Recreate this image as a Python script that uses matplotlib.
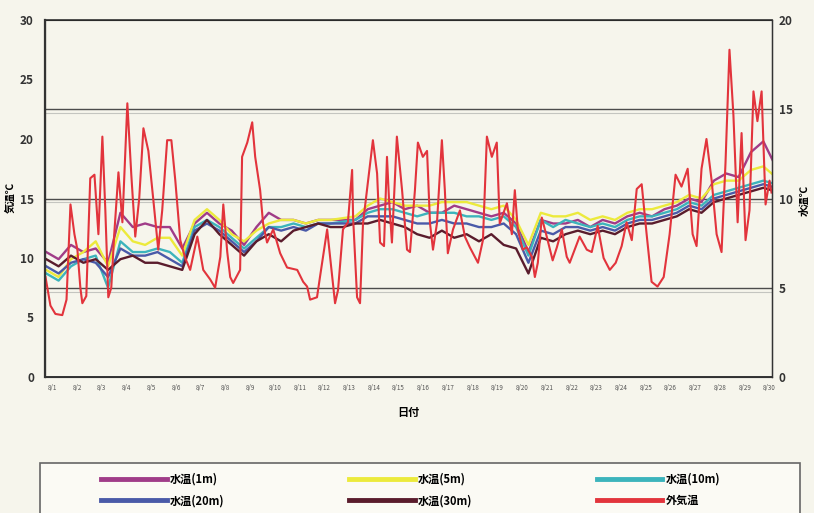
import numpy as np
import matplotlib.pyplot as plt
from matplotlib.lines import Line2D
from matplotlib.patches import Rectangle

plt.rcParams['font.family'] = ['Noto Sans CJK JP', 'DejaVu Sans']

# ---------------------------------------------------------------
#  data, x = days after 8/1 00:00
# ---------------------------------------------------------------
day_labels = ['8/{}'.format(d) for d in range(1, 31)]

# outside air temperature (left axis)
air_t = [-0.28, -0.08, 0.12, 0.40, 0.57, 0.73, 0.89, 1.01, 1.13, 1.21, 1.37, 1.53, 1.70,
         1.86, 2.02, 2.14, 2.26, 2.38, 2.50, 2.67, 2.83, 3.03, 3.19, 3.35, 3.51, 3.68,
         3.88, 4.08, 4.28, 4.44, 4.64, 4.81, 4.97, 5.17, 5.37, 5.57, 5.86, 6.10, 6.38,
         6.58, 6.79, 6.91, 7.07, 7.19, 7.31, 7.59, 7.67, 7.88, 8.08, 8.20, 8.40, 8.52,
         8.68, 8.93, 9.21, 9.49, 9.90, 10.14, 10.30, 10.42, 10.70, 10.82, 11.11, 11.23,
         11.43, 11.55, 11.75, 11.95, 12.12, 12.16, 12.32, 12.44, 12.56, 12.72, 12.96,
         13.13, 13.25, 13.41, 13.53, 13.61, 13.73, 13.93, 14.14, 14.34, 14.46, 14.66,
         14.78, 14.98, 15.15, 15.27, 15.39, 15.55, 15.75, 15.87, 15.99, 16.20, 16.48,
         16.68, 16.88, 17.08, 17.21, 17.41, 17.57, 17.77, 17.97, 18.09, 18.38, 18.58,
         18.70, 18.82, 19.02, 19.18, 19.39, 19.51, 19.63, 19.79, 19.99, 20.23, 20.40,
         20.60, 20.80, 20.92, 21.32, 21.61, 21.81, 22.05, 22.29, 22.54, 22.78, 23.02,
         23.22, 23.43, 23.63, 23.83, 24.03, 24.23, 24.47, 24.72, 24.96, 25.20, 25.44,
         25.69, 25.89, 26.05, 26.25, 26.45, 26.66, 26.86, 27.06, 27.22, 27.38, 27.54,
         27.71, 27.87, 28.03, 28.19, 28.35, 28.51, 28.68, 28.84, 29.00, 29.08]
air = [8.4, 6.0, 5.3, 5.2, 6.5, 14.5, 12.0, 10.7, 7.5, 6.2, 6.8, 16.7, 17.0,
       12.0, 20.2, 14.0, 6.7, 7.5, 12.0, 17.2, 13.0, 23.0, 17.0, 11.8, 15.0, 20.9,
       19.0, 14.9, 10.7, 14.0, 19.9, 19.9, 16.5, 11.5, 10.0, 9.0, 11.8, 9.0, 8.2,
       7.5, 10.1, 14.5, 10.5, 8.4, 7.9, 9.0, 18.5, 19.7, 21.4, 18.5, 15.7, 12.9,
       11.3, 12.4, 10.4, 9.2, 9.0, 8.0, 7.6, 6.5, 6.7, 8.4, 12.4, 10.1,
       6.2, 7.3, 12.4, 13.0, 17.4, 13.4, 6.7, 6.2, 12.9, 15.7, 19.9,
       17.1, 11.3, 11.0, 18.5, 15.0, 11.3, 20.2, 15.7, 10.7, 10.5, 15.7,
       19.7, 18.5, 19.0, 12.9, 10.7, 12.9, 19.9, 15.7, 10.4, 12.4, 14.0,
       11.8, 10.9, 10.1, 9.6, 11.5, 20.2, 18.5, 19.7, 12.9, 14.6, 12.0,
       15.7, 12.4, 10.7, 10.9, 10.1, 8.4, 9.6, 13.4, 11.8, 9.8, 10.9,
       12.4, 10.1, 9.6, 11.8, 10.7, 10.5, 12.7, 10.0, 9.0, 9.6, 11.0,
       13.0, 11.5, 15.8, 16.2, 12.0, 8.0, 7.6, 8.4, 12.0, 17.0, 16.0,
       17.5, 12.0, 11.0, 17.5, 20.0, 16.5, 12.0, 10.5, 18.0, 27.5, 22.0,
       13.0, 20.5, 11.5, 14.0, 24.0, 21.5, 24.0, 14.5, 16.5, 15.5]

# water temperature (right axis), two readings per day
water_t = np.arange(-0.25, 29.3, 0.5)
w_1m = [7.0, 6.6, 7.4, 7.0, 7.2, 6.4, 9.2, 8.4, 8.6, 8.4, 8.4, 7.2, 8.6, 9.2, 8.6, 8.2,
        7.4, 8.4, 9.2, 8.8, 8.8, 8.6, 8.8, 8.8, 8.8, 8.8, 9.4, 9.6, 9.8, 9.4, 9.6, 9.2,
        9.2, 9.6, 9.4, 9.2, 9.0, 9.2, 8.6, 7.0, 8.8, 8.6, 8.6, 8.8, 8.4, 8.8, 8.6, 9.0,
        9.2, 9.0, 9.4, 9.6, 10.0, 9.8, 11.0, 11.4, 11.2, 12.6, 13.2, 11.8]
w_5m = [6.0, 5.6, 6.6, 7.0, 7.6, 6.2, 8.4, 7.6, 7.4, 7.8, 7.8, 6.8, 8.8, 9.4, 8.8, 8.0,
        7.6, 8.2, 8.6, 8.8, 8.8, 8.6, 8.8, 8.8, 8.9, 9.0, 9.6, 10.0, 9.8, 9.6, 9.6, 9.6,
        9.8, 9.8, 9.8, 9.6, 9.4, 9.6, 8.8, 7.4, 9.2, 9.0, 9.0, 9.2, 8.8, 9.0, 8.8, 9.2,
        9.4, 9.4, 9.6, 9.8, 10.2, 10.0, 10.8, 11.0, 11.0, 11.6, 11.8, 11.2]
w_10m = [5.8, 5.4, 6.2, 6.6, 6.8, 5.0, 7.6, 7.0, 7.0, 7.2, 7.0, 6.4, 8.4, 8.8, 8.4, 7.8,
         7.2, 7.8, 8.4, 8.4, 8.6, 8.4, 8.6, 8.6, 8.7, 8.8, 9.2, 9.4, 9.4, 9.2, 9.0, 9.2,
         9.2, 9.2, 9.0, 9.0, 8.8, 9.0, 8.4, 6.8, 8.8, 8.4, 8.8, 8.6, 8.4, 8.6, 8.4, 8.8,
         9.0, 9.0, 9.2, 9.4, 9.8, 9.6, 10.2, 10.4, 10.6, 10.8, 11.0, 10.8]
w_20m = [6.2, 5.8, 6.4, 6.6, 6.4, 5.6, 7.2, 6.8, 6.8, 7.0, 6.6, 6.2, 8.2, 8.6, 8.2, 7.6,
         7.0, 7.6, 8.4, 8.2, 8.4, 8.2, 8.6, 8.6, 8.6, 8.6, 9.0, 9.0, 9.0, 8.8, 8.6, 8.6,
         8.8, 8.6, 8.6, 8.4, 8.4, 8.6, 8.0, 6.4, 8.2, 8.0, 8.4, 8.4, 8.2, 8.4, 8.2, 8.6,
         8.8, 8.8, 9.0, 9.2, 9.6, 9.4, 10.0, 10.2, 10.4, 10.6, 10.8, 10.6]
w_30m = [6.6, 6.2, 6.8, 6.4, 6.6, 6.0, 6.6, 6.8, 6.4, 6.4, 6.2, 6.0, 8.0, 8.8, 8.0, 7.4,
         6.8, 7.6, 8.0, 7.6, 8.2, 8.4, 8.6, 8.4, 8.4, 8.6, 8.6, 8.8, 8.6, 8.4, 8.0, 7.8,
         8.2, 7.8, 8.0, 7.6, 8.0, 7.4, 7.2, 5.8, 7.8, 7.6, 8.0, 8.2, 8.0, 8.2, 8.0, 8.4,
         8.6, 8.6, 8.8, 9.0, 9.4, 9.2, 9.8, 10.0, 10.2, 10.4, 10.6, 10.4]

water_series = [w_1m, w_5m, w_10m, w_20m, w_30m]
water_names = ['水温(1m)', '水温(5m)', '水温(10m)', '水温(20m)', '水温(30m)']
water_colors = ['#a03c88', '#ecea3c', '#3cb4bc', '#4a5aa8', '#5a1c2c']
air_color = '#e2343c'

# ---------------------------------------------------------------
#  plot
# ---------------------------------------------------------------
fig = plt.figure(figsize=(8.14, 5.13), dpi=100, facecolor='#f6f5ec')
ax = fig.add_axes([45/814, 1-377/513, 727/814, 357/513])
ax2 = ax.twinx()

# water on the back axes, air temperature on top
ax2.set_facecolor('#a7a9a4')
ax.set_zorder(ax2.get_zorder() + 1)
ax.patch.set_visible(False)

for yv in [5, 10, 15]:
    ax2.axhline(yv, color='#4c4c4c', lw=1.0, zorder=0)
    ax2.axhline(yv - 0.22, color='#c4c5c0', lw=0.8, zorder=0)

for w, c in zip(water_series, water_colors):
    ax2.plot(water_t, w, color=c, lw=1.7)
ax.plot(air_t, air, color=air_color, lw=1.5)

ax.set_xlim(-0.3, 29.1)
ax.set_ylim(0, 30)
ax2.set_ylim(0, 20)
ax.set_yticks(range(0, 31, 5))
ax2.set_yticks(range(0, 21, 5))
ax.set_xticks(range(30))
ax.set_xticklabels(day_labels, fontsize=4.5, color='#555555')
ax.tick_params(axis='x', length=0, pad=5)
ax.tick_params(axis='y', length=0, pad=8, labelsize=8.5)
ax2.tick_params(axis='y', length=0, pad=5, labelsize=8.5)
for lab in ax.get_yticklabels() + ax2.get_yticklabels():
    lab.set_fontweight('bold')
    lab.set_color('#333333')

for sp in ['top', 'left', 'bottom', 'right']:
    ax.spines[sp].set_color('#333333')
ax.spines['left'].set_linewidth(1.6)
ax.spines['top'].set_linewidth(1.2)
ax.spines['bottom'].set_linewidth(1.4)
ax.spines['right'].set_linewidth(1.0)

fig.text(11/814, 1-197/513, '気温℃', rotation=90, ha='center', va='center',
         fontsize=7.5, fontweight='bold')
fig.text(805/814, 1-200/513, '水温℃', rotation=90, ha='center', va='center',
         fontsize=7.5, fontweight='bold')
ax.set_xlabel('日付', fontsize=8, fontweight='bold', labelpad=10)

# legend: filled row by row like the original
handles = [Line2D([0], [0], color=water_colors[0], lw=3.5),
           Line2D([0], [0], color=water_colors[3], lw=3.5),
           Line2D([0], [0], color=water_colors[1], lw=3.5),
           Line2D([0], [0], color=water_colors[4], lw=3.5),
           Line2D([0], [0], color=water_colors[2], lw=3.5),
           Line2D([0], [0], color=air_color, lw=3.5)]
labels = [water_names[0], water_names[3], water_names[1], water_names[4],
          water_names[2], '外気温']
fig.patches.append(Rectangle((40/814, -0.02), 760/814, 50/513 + 0.02,
                             transform=fig.transFigure, facecolor='#fbfaf4',
                             edgecolor='#666666', lw=1.2, zorder=0))
leg = fig.legend(handles, labels, loc='upper left', ncol=3,
                 bbox_to_anchor=(101/814, 1-473/513),
                 fontsize=8, handlelength=5.9, handletextpad=0.3,
                 columnspacing=11.2, frameon=False, borderpad=0,
                 borderaxespad=0, labelspacing=0.75)
for t in leg.get_texts():
    t.set_fontweight('bold')

fig.savefig('out.png', dpi=100, facecolor=fig.get_facecolor())
